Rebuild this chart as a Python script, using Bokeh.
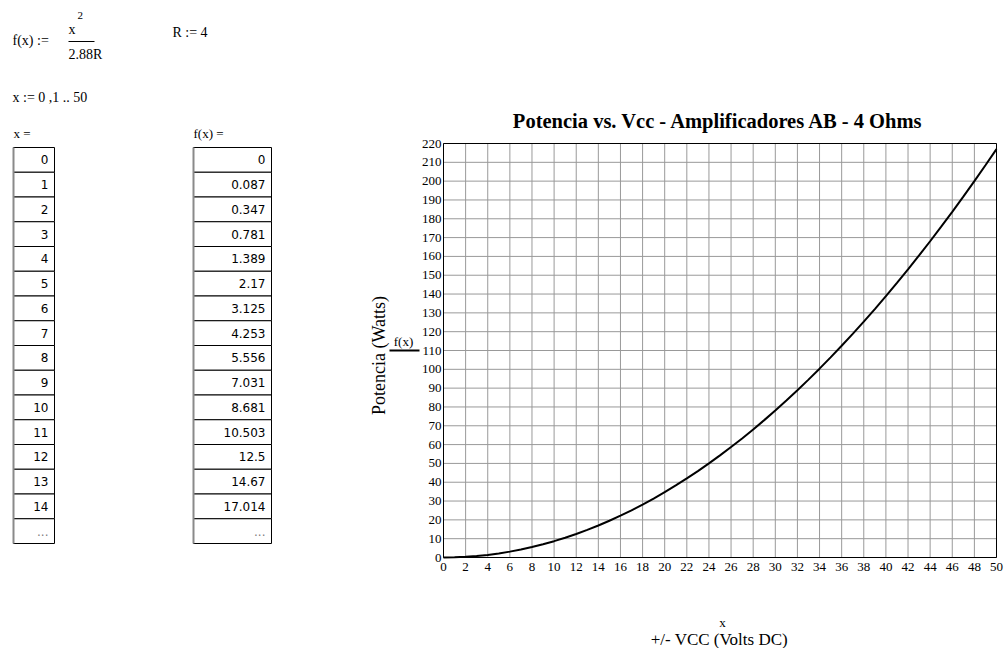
import math
from bokeh.plotting import figure
from bokeh.models import Range1d, FixedTicker, LinearAxis
from bokeh.embed import file_html
from bokeh.resources import INLINE
from bokeh.core.properties import value

# ---------------- data ----------------
x_vals = list(range(0, 51))
f_vals = [0, 0.087, 0.347, 0.781, 1.389, 2.170, 3.125, 4.253, 5.556, 7.031,
          8.681, 10.503, 12.5, 14.670, 17.014, 19.531, 22.222, 25.087, 28.125, 31.337,
          34.722, 38.281, 42.014, 45.920, 50.0, 54.253, 58.681, 63.281, 68.056, 73.003,
          78.125, 83.420, 88.889, 94.531, 100.347, 106.337, 112.5, 118.837, 125.347, 132.031,
          138.889, 145.920, 153.125, 160.503, 168.056, 175.781, 183.681, 191.753, 200.0, 208.420,
          217.014]
table_x = ["0", "1", "2", "3", "4", "5", "6", "7", "8", "9", "10", "11", "12", "13", "14", "..."]
table_f = ["0", "0.087", "0.347", "0.781", "1.389", "2.17", "3.125", "4.253", "5.556", "7.031",
           "8.681", "10.503", "12.5", "14.67", "17.014", "..."]
x_ticks = list(range(0, 51, 2))
y_ticks = list(range(0, 221, 10))

TITLE = "Potencia vs. Vcc - Amplificadores AB - 4 Ohms"
Y_TITLE = "Potencia (Watts)"
X_NAME = "x"
X_TITLE = "+/-  VCC (Volts DC)"

SERIF = "Liberation Serif"
SANS = "DejaVu Sans"

# ---------------- canvas / frame geometry ----------------
W, H = 1004, 648
FX0, FX1 = 443, 996          # page x of x=0 and x=50
FY0, FY1 = 557, 143          # page y of y=0 and y=220
XMIN, XMAX, YMIN, YMAX = 0, 50, 0, 220
sx = (FX1 - FX0) / (XMAX - XMIN)
sy = (FY0 - FY1) / (YMAX - YMIN)

p = figure(width=W, height=H,
           x_range=Range1d(XMIN - FX0 / sx, XMAX + (W - FX1) / sx),
           y_range=Range1d(YMIN - (H - FY0) / sy, YMAX + FY1 / sy),
           output_backend="svg", toolbar_location=None, min_border=0,
           x_axis_location=None, y_axis_location=None)
p.title.text = ""
p.title.visible = False
p.outline_line_color = None
p.grid.visible = False
p.extra_x_ranges = {"px": Range1d(0, W)}
p.extra_y_ranges = {"py": Range1d(H, 0)}

# grid (from tick arrays) and frame box
p.segment(x0=x_ticks, y0=[YMIN] * len(x_ticks), x1=x_ticks, y1=[YMAX] * len(x_ticks),
          line_color="#999999", line_width=1)
p.segment(x0=[XMIN] * len(y_ticks), y0=y_ticks, x1=[XMAX] * len(y_ticks), y1=y_ticks,
          line_color="#999999", line_width=1)
p.quad(left=[XMIN], right=[XMAX], bottom=[YMIN], top=[YMAX], fill_color=None,
       line_color="black", line_width=1)

# axes at fixed locations on the box edges
xaxis = LinearAxis(ticker=FixedTicker(ticks=x_ticks), fixed_location=YMIN, bounds=(XMIN, XMAX))
yaxis = LinearAxis(ticker=FixedTicker(ticks=y_ticks), fixed_location=XMIN, bounds=(YMIN, YMAX))
p.add_layout(xaxis, "below")
p.add_layout(yaxis, "left")
for ax in (xaxis, yaxis):
    ax.axis_line_color = None
    ax.major_tick_line_color = None
    ax.minor_tick_line_color = None
    ax.major_tick_in = 0
    ax.major_tick_out = 0
    ax.minor_tick_in = 0
    ax.minor_tick_out = 0
    ax.major_label_text_font = SERIF
    ax.major_label_text_font_size = "13px"
    ax.major_label_text_color = "black"
yaxis.major_label_standoff = 2
xaxis.major_label_standoff = 5

# the curve
p.line(x_vals, f_vals, line_color="black", line_width=2)


def txt(px, py, s, size="14px", font=SERIF, align="left", color="black", angle=0.0, style="normal"):
    p.text(x=[px], y=[py], text=[s], text_font=value(font), text_font_size=size,
           text_font_style=style, text_align=align, text_baseline="middle",
           text_color=color, angle=angle, x_range_name="px", y_range_name="py")

# chart texts
txt(718, 120, TITLE, size="20.5px", align="center", style="bold")
txt(722, 622, X_NAME, size="13px", align="center")
txt(721, 639, X_TITLE, size="17px", align="center")
txt(378, 355, Y_TITLE, size="18px", align="center", angle=math.pi / 2)
txt(403, 341, "f(x)", size="13px", align="center")
p.segment(x0=[389], y0=[350], x1=[419], y1=[350], line_color="black", line_width=2,
          x_range_name="px", y_range_name="py")

# ---------------- worksheet part ----------------
txt(12, 40, "f(x) :=")
txt(68, 29, "x")
txt(77, 15, "2", size="11px")
p.segment(x0=[68], y0=[41], x1=[94], y1=[41], line_color="black", line_width=1,
          x_range_name="px", y_range_name="py")
txt(68, 54, "2.88R")
txt(172, 32, "R := 4")
txt(12, 97, "x := 0 ,1 .. 50")
txt(13, 133, "x =", size="13px")
txt(193, 133, "f(x) =", size="13px")

TOP0 = 147.0
RH = 24.75
n = len(table_x)
tops = [TOP0 + i * RH for i in range(n)]
bots = [t + RH for t in tops]
mids = [t + RH / 2 for t in tops]
for (l, r, vals) in [(13, 54, table_x), (193, 271, table_f)]:
    p.quad(left=[l] * n, right=[r] * n, top=tops, bottom=bots, fill_color="white",
           line_color="black", line_width=1, x_range_name="px", y_range_name="py")
    p.segment(x0=[l], y0=[tops[0]], x1=[l], y1=[bots[-1]], line_color="#8a8a8a", line_width=2,
              x_range_name="px", y_range_name="py")
    cols = ["black"] * (n - 1) + ["#808080"]
    p.text(x=[r - 6] * n, y=mids, text=vals, text_font=value(SANS), text_font_size="12px",
           text_align="right", text_baseline="middle", text_color=cols,
           x_range_name="px", y_range_name="py")

open("out.html", "w").write(file_html(p, INLINE))
